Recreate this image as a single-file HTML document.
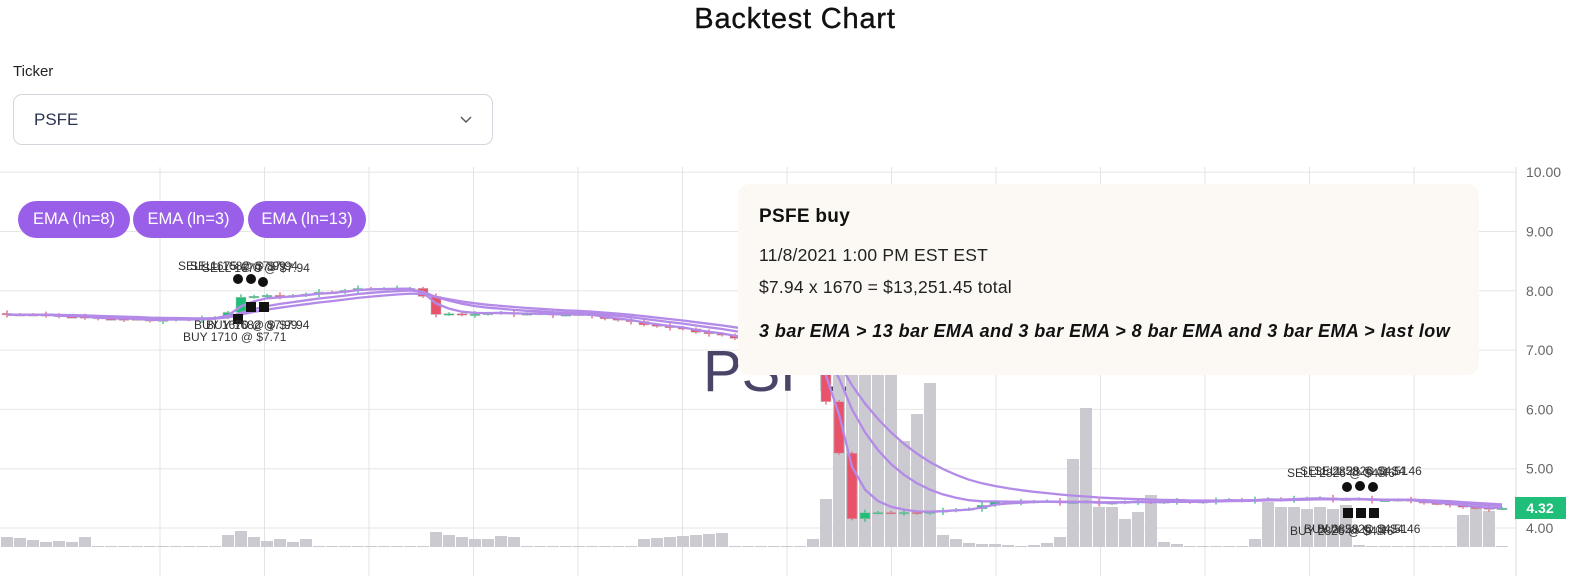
<!DOCTYPE html>
<html><head><meta charset="utf-8">
<style>
body{margin:0;width:1590px;height:576px;overflow:hidden;background:#fff;font-family:"Liberation Sans",sans-serif;position:relative}
.title{position:absolute;left:0;width:1590px;top:3px;text-align:center;font-size:29px;letter-spacing:0.8px;color:#111;-webkit-text-stroke:0.4px #111}
.lbl{position:absolute;left:13px;top:63px;font-size:15px;color:#222}
.sel{position:absolute;left:13px;top:94px;width:480px;height:51px;border:1px solid #d3d6dd;border-radius:9px;box-sizing:border-box}
.sel span{position:absolute;left:20px;top:15px;font-size:17px;color:#2b3550}
.sel svg{position:absolute;right:20px;top:21px}
.btn{position:absolute;top:201px;height:37px;border-radius:19px;background:#995fe8;color:#fff;font-size:16.5px;line-height:37px;text-align:center}
.tip{position:absolute;left:738px;top:184px;width:741px;height:191px;background:#fcf9f4;border-radius:12px}
.tip .h{position:absolute;left:21px;top:22px;font-size:19px;font-weight:bold;color:#111;letter-spacing:0.3px}
.tip .l{position:absolute;left:21px;font-size:17.5px;color:#222;letter-spacing:0.2px}
.tip .i{position:absolute;left:21px;top:137px;font-size:18px;font-weight:bold;font-style:italic;color:#111;letter-spacing:0.45px}
</style></head><body>
<div class="title">Backtest Chart</div>
<div class="lbl">Ticker</div>
<div class="sel"><span>PSFE</span><svg width="12" height="8"><path d="M1 1 L6 6 L11 1" stroke="#555" stroke-width="1.4" fill="none"/></svg></div>
<svg id="c" width="1590" height="409" style="position:absolute;left:0;top:167px"></svg>
<div class="btn" style="left:18px;width:112px">EMA (ln=8)</div>
<div class="btn" style="left:133px;width:111px">EMA (ln=3)</div>
<div class="btn" style="left:248px;width:118px">EMA (ln=13)</div>
<div class="tip"><div class="h">PSFE buy</div>
<div class="l" style="top:61px">11/8/2021 1:00 PM EST EST</div>
<div class="l" style="top:93px">$7.94 x 1670 = $13,251.45 total</div>
<div class="i">3 bar EMA &gt; 13 bar EMA and 3 bar EMA &gt; 8 bar EMA and 3 bar EMA &gt; last low</div></div>
<script>
const OY=167;
const Y=p=>528-(p-4)*59.3-OY;
let s='';
for(let p=4;p<=10;p++){s+=`<line x1="0" x2="1516" y1="${Y(p)}" y2="${Y(p)}" stroke="#e6e6e6"/>`;
s+=`<text x="1526" y="${Y(p)+5}" font-size="14" fill="#666" font-family="Liberation Sans">${p.toFixed(2)}</text>`;}
for(let k=0;k<14;k++){const x=160+104.5*k;if(x<1516)s+=`<line x1="${x}" x2="${x}" y1="0" y2="409" stroke="#e3e3e6"/>`;}
s+=`<line x1="1516" x2="1516" y1="0" y2="409" stroke="#ddd"/>`;
s+=`<text x="703" y="${391-OY}" font-size="58" fill="#4b4468" font-family="Liberation Sans">PSFE</text>`;
const V={0:10,1:9,2:7,3:5,4:6,5:5,6:10,17:12,18:16,19:10,20:6,21:8,22:5,23:8,33:15,34:12,35:10,36:8,37:8,38:11,39:10,
49:8,50:9,51:10,52:11,53:12,54:13,55:14,62:8,63:48,64:180,65:190,66:185,67:180,68:178,69:106,70:133,71:164,72:12,73:8,74:4,75:3,76:3,77:2,79:2,80:4,81:10,82:88,83:139,84:40,85:40,86:28,87:35,88:52,89:5,90:3,
96:8,97:45,98:40,99:40,100:38,101:40,102:38,103:42,104:2,112:32,113:44,114:36};
for(let i=0;i<116;i++){const h=V[i]||1;const x=1+13*i;s+=`<rect x="${x}" y="${547-h-OY}" width="12" height="${h}" fill="#cbcad0"/>`;}
const K=[[0,7.62],[150,7.5],[225,7.55],[240,7.9],[300,7.93],[370,8.05],[420,8.02],[432,7.6],[500,7.62],[580,7.6],[700,7.3],[760,7.15],[815,6.95],[828,6.0],[840,5.2],[852,4.15],[870,4.28],[900,4.25],[960,4.3],[1000,4.45],[1100,4.43],[1200,4.45],[1300,4.5],[1400,4.47],[1490,4.32],[1516,4.32]];
const P=x=>{for(let j=1;j<K.length;j++)if(x<=K[j][0]){const a=K[j-1],b=K[j];return a[1]+(b[1]-a[1])*(x-a[0])/(b[0]-a[0]);}return 4.32};
let cl=[],prev=P(0);
for(let i=0;i<116;i++){const cx=7+13*i;const c=P(cx)+((i*37%7)-3)*0.005;const o=prev;cl.push([cx,c]);
const up=c>=o;const col=up?'#1fbf79':'#e8536b';const t=Math.min(Y(o),Y(c)),b=Math.max(Y(o),Y(c));
const w=(i%3==0)?3:1.5;
s+=`<line x1="${cx}" x2="${cx}" y1="${t-w}" y2="${b+w}" stroke="${col}" stroke-width="1.2"/>`;
s+=`<rect x="${cx-5}" y="${t}" width="10" height="${Math.max(b-t,1.5)}" fill="${col}" stroke="#bbb" stroke-width="0.5"/>`;prev=c;}
for(const n of [3,8,13]){const a=2/(n+1);let e=cl[0][1],d='';cl.forEach(([x,c],i)=>{e=i?a*c+(1-a)*e:c;d+=(i?'L':'M')+x+' '+Y(e).toFixed(1);});
s+=`<path d="${d}" stroke="#b48ae8" stroke-width="2.3" fill="none"/>`;}
const tx=(x,y,t)=>`<text x="${x}" y="${y-OY}" font-size="12" fill="#333" font-family="Liberation Sans">${t}</text>`;
[[238,279],[251,279],[263,282],[1347,487],[1360,486],[1373,487]].forEach(([x,y])=>s+=`<circle cx="${x}" cy="${y-OY}" r="5" fill="#111"/>`);
[[233,314],[246,302],[259,302],[1343,508],[1356,508],[1369,508]].forEach(([x,y])=>s+=`<rect x="${x}" y="${y-OY}" width="10" height="10" fill="#111"/>`);
s+=tx(178,270,'SELL 1675 @ $7.99')+tx(190,270,'SELL 1682 @ $7.94')+tx(202,272,'SELL 1670 @ $7.94');
s+=tx(194,329,'BUY 1670 @ $7.99')+tx(206,329,'BUY 1682 @ $7.94')+tx(183,341,'BUY 1710 @ $7.71');
s+=tx(1287,477,'SELL 2826 @ $4.46')+tx(1300,475,'SELL 2858 @ $4.51')+tx(1314,475,'SELL 2826 @ $4.46');
s+=tx(1290,535,'BUY 2826 @ $4.46')+tx(1304,533,'BUY 2858 @ $4.51')+tx(1317,533,'BUY 2826 @ $4.46');
s+=`<rect x="1515" y="${497-OY}" width="51" height="22" fill="#1fbf79"/><text x="1540" y="${513-OY}" text-anchor="middle" font-size="14" font-weight="bold" fill="#fff" font-family="Liberation Sans">4.32</text>`;
document.getElementById('c').innerHTML=s;
</script>
</body></html>
